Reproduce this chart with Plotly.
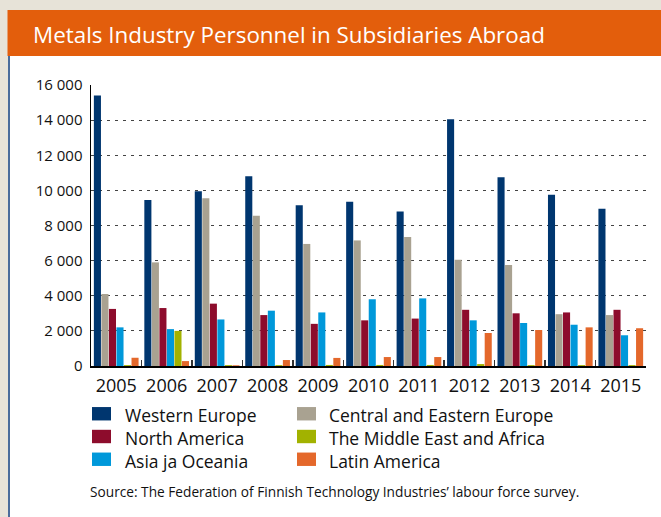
import plotly.graph_objects as go

years = ["2005", "2006", "2007", "2008", "2009", "2010", "2011", "2012", "2013", "2014", "2015"]
western_europe = [15400, 9450, 9950, 10800, 9150, 9350, 8800, 14050, 10750, 9750, 8950]
central_eastern_europe = [4100, 5900, 9550, 8550, 6950, 7150, 7350, 6050, 5750, 2950, 2900]
north_america = [3250, 3300, 3550, 2900, 2400, 2600, 2700, 3200, 3000, 3050, 3200]
asia_oceania = [2200, 2100, 2650, 3150, 3050, 3800, 3850, 2600, 2450, 2350, 1750]
middle_east_africa = [50, 2000, 50, 50, 60, 60, 60, 110, 50, 50, 50]
latin_america = [470, 280, 40, 340, 460, 510, 510, 1880, 2050, 2200, 2150]

series_names = ["Western Europe", "Central and Eastern Europe", "North America",
                "Asia ja Oceania", "The Middle East and Africa", "Latin America"]
series_values = [western_europe, central_eastern_europe, north_america,
                 asia_oceania, middle_east_africa, latin_america]
series_colors = ["#00366F", "#A9A291", "#8D0C2C", "#0098DA", "#A2B200", "#E4682B"]

# legend layout: two columns of three entries
legend_columns = [["Western Europe", "North America", "Asia ja Oceania"],
                  ["Central and Eastern Europe", "The Middle East and Africa", "Latin America"]]

title_text = "Metals Industry Personnel in Subsidiaries Abroad"
source_text = "Source: The Federation of Finnish Technology Industries’ labour force survey."

W, H = 661, 517
L, R, T, B = 91, 15, 85, 151
PW, PH = W - L - R, H - T - B
FONT = "Open Sans"
LEG_SIZE = 17.5
LINE = LEG_SIZE * 1.3


def px(x):
    return (x - L) / PW


def py(y):
    return (H - B - y) / PH


fig = go.Figure()
for name, vals, col in zip(series_names, series_values, series_colors):
    fig.add_trace(go.Bar(x=years, y=vals, name=name, marker=dict(color=col, line=dict(width=0)),
                         showlegend=False, hoverinfo="skip"))

shapes = []
# beige surround
shapes.append(dict(type="rect", xref="paper", yref="paper", x0=px(0), x1=px(8.5), y0=py(H), y1=py(0),
                   fillcolor="#E7E3D8", line=dict(width=0), layer="below"))
shapes.append(dict(type="rect", xref="paper", yref="paper", x0=px(0), x1=px(W), y0=py(10), y1=py(0),
                   fillcolor="#E7E3D8", line=dict(width=0), layer="below"))
# orange header
shapes.append(dict(type="rect", xref="paper", yref="paper", x0=px(7.5), x1=px(W), y0=py(56), y1=py(10),
                   fillcolor="#E35E0C", line=dict(width=0), layer="below"))
# blue left border
shapes.append(dict(type="line", xref="paper", yref="paper", x0=px(9), x1=px(9), y0=py(H), y1=py(56),
                   line=dict(color="#4A6C9B", width=2), layer="below"))

annotations = []
annotations.append(dict(text=title_text, xref="paper", yref="paper", x=px(31), y=py(34),
                        xanchor="left", yanchor="middle", showarrow=False,
                        font=dict(family=FONT, size=22.4, color="white")))

color_of = dict(zip(series_names, series_colors))
mid_y = 436.5
col_sq_x = [92, 297]
col_txt_x = [124, 328]
for c, column in enumerate(legend_columns):
    for r, name in enumerate(column):
        cy = mid_y + (r - 1) * LINE
        shapes.append(dict(type="rect", xref="paper", yref="paper",
                           x0=px(col_sq_x[c]), x1=px(col_sq_x[c] + 19),
                           y0=py(cy + 6.7), y1=py(cy - 6.7),
                           fillcolor=color_of[name], line=dict(width=0)))
    annotations.append(dict(text="<br>".join(column), xref="paper", yref="paper",
                            x=px(col_txt_x[c] - 1), y=py(mid_y + 1),
                            xanchor="left", yanchor="middle", align="left", showarrow=False,
                            font=dict(family=FONT, size=LEG_SIZE, color="#111111")))

annotations.append(dict(text=source_text, xref="paper", yref="paper", x=px(88), y=py(491),
                        xanchor="left", yanchor="middle", showarrow=False,
                        font=dict(family=FONT, size=13.7, color="#111111")))

fig.update_layout(
    width=W, height=H,
    margin=dict(l=L, r=R, t=T, b=B, pad=0),
    paper_bgcolor="white", plot_bgcolor="white",
    barmode="group", bargap=0.105, bargroupgap=0.06,
    separators=". ",
    shapes=shapes, annotations=annotations,
    font=dict(family=FONT, color="#111111"),
    hovermode=False,
)
fig.update_xaxes(
    type="category", showline=True, linecolor="black", linewidth=1.5,
    tickson="boundaries", ticks="inside", ticklen=6, tickwidth=1.5, tickcolor="#333333",
    showgrid=False, tickfont=dict(family=FONT, size=18, color="#111111"),
    tickangle=0, ticklabelstandoff=3,
)
fig.update_yaxes(
    range=[0, 16000], tickvals=[0, 2000, 4000, 6000, 8000, 10000, 12000, 14000, 16000],
    tickformat=",d", showline=True, linecolor="black", linewidth=1.5,
    showgrid=True, gridcolor="#444444", gridwidth=1, griddash="3px,5px",
    zeroline=False, ticks="", tickfont=dict(family=FONT, size=15, color="#111111"),
    ticklabelstandoff=4,
)

fig.write_html("out.html", config={"displayModeBar": False, "staticPlot": True},
               post_script="document.body.style.margin='0';document.body.style.padding='0';")
